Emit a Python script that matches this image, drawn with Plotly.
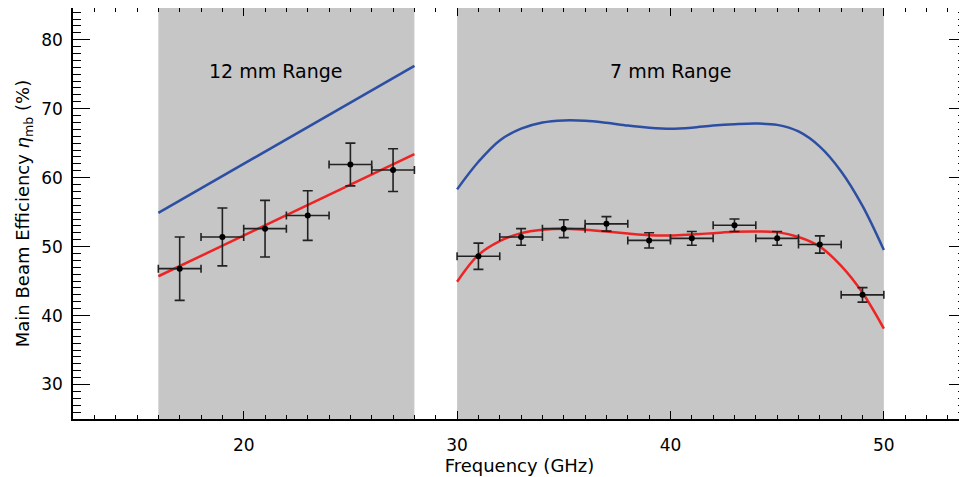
import plotly.graph_objects as go

# shaded receiver ranges (GHz)
range_12mm = [16, 28]
range_7mm = [30, 50]

# measured main beam efficiency with error bars
freq_12mm = [17, 19, 21, 23, 25, 27]
eff_12mm = [46.8, 51.4, 52.6, 54.5, 61.9, 61.1]
err_12mm = [4.6, 4.2, 4.1, 3.6, 3.1, 3.1]

freq_7mm = [31, 33, 35, 37, 39, 41, 43, 45, 47, 49]
eff_7mm = [48.6, 51.4, 52.6, 53.3, 50.9, 51.2, 53.1, 51.2, 50.3, 43.0]
err_7mm = [1.9, 1.2, 1.3, 1.05, 1.1, 1.0, 0.9, 1.0, 1.25, 1.05]
freq_halfwidth = 1.0

# model curves
model_x_12 = [16, 28]
model_blue_12 = [54.9, 76.2]
model_red_12 = [45.7, 63.4]

model_x_7 = list(range(30, 51))
model_blue_7 = [58.3, 62.3, 65.4, 67.1, 68.0, 68.3, 68.25, 67.95, 67.55, 67.25, 67.1,
                67.25, 67.55, 67.75, 67.85, 67.65, 66.7, 64.5, 60.9, 55.9, 49.5]
model_red_7 = [44.9, 48.8, 50.8, 51.95, 52.45, 52.6, 52.45, 52.2, 51.9, 51.65, 51.6,
               51.75, 51.95, 52.15, 52.2, 52.1, 51.4, 50.0, 47.2, 43.3, 38.1]

labels = ["12 mm Range", "7 mm Range"]
label_x = [21.5, 40.0]
label_y = 75.4

BLUE = "#2d4fa3"
RED = "#ee2424"
GRAY = "#c6c6c6"
FONT = "DejaVu Sans"

fig = go.Figure()

for xs, blue, red in [(model_x_12, model_blue_12, model_red_12),
                      (model_x_7, model_blue_7, model_red_7)]:
    fig.add_trace(go.Scatter(x=xs, y=blue, mode="lines", line=dict(color=BLUE, width=2.5, shape="spline", smoothing=1.0)))
    fig.add_trace(go.Scatter(x=xs, y=red, mode="lines", line=dict(color=RED, width=2.5, shape="spline", smoothing=1.0)))

for xs, ys, es in [(freq_12mm, eff_12mm, err_12mm), (freq_7mm, eff_7mm, err_7mm)]:
    fig.add_trace(go.Scatter(
        x=xs, y=ys, mode="markers",
        marker=dict(color="black", size=6),
        error_y=dict(type="data", array=es, color="#222222", thickness=1.6, width=5),
        error_x=dict(type="data", array=[freq_halfwidth] * len(xs), color="#222222", thickness=1.6, width=4),
    ))

for x0, x1 in [range_12mm, range_7mm]:
    fig.add_shape(type="rect", xref="x", yref="paper", x0=x0, x1=x1, y0=0, y1=1,
                  fillcolor=GRAY, line_width=0, layer="below")

for txt, lx in zip(labels, label_x):
    fig.add_annotation(x=lx, y=label_y, text=txt, showarrow=False,
                       font=dict(family=FONT, size=19, color="black"))

axis_common = dict(
    showgrid=False, zeroline=False, showline=True, linecolor="black", linewidth=1.5,
    mirror="ticks", ticks="inside", tickcolor="black", tickwidth=1.3, automargin=False,
    tickfont=dict(family=FONT, size=17, color="black"),
)

fig.update_xaxes(
    range=[12, 53.85], dtick=10, tick0=0, ticklen=8, ticklabelstandoff=10,
    minor=dict(ticks="inside", dtick=1, ticklen=4, tickcolor="black", tickwidth=1.3),
    title=dict(text="Frequency (GHz)", font=dict(family=FONT, size=18, color="black"), standoff=4),
    **axis_common,
)
fig.update_yaxes(
    range=[25, 84.6], dtick=10, tick0=0, ticklen=17, ticklabelstandoff=5,
    minor=dict(ticks="inside", dtick=1, ticklen=8, tickcolor="black", tickwidth=1.3),
    title=dict(text="Main Beam Efficiency <i>η</i><sub>mb</sub> (%)", font=dict(family=FONT, size=18, color="black"), standoff=7),
    **axis_common,
)

# the page body adds an 8px offset, so the figure is sized to fit inside it
fig.update_layout(
    width=959, height=469,
    margin=dict(l=65, r=1, t=0, b=58),
    plot_bgcolor="white", paper_bgcolor="white",
    showlegend=False,
)

fig.write_html("out.html")
